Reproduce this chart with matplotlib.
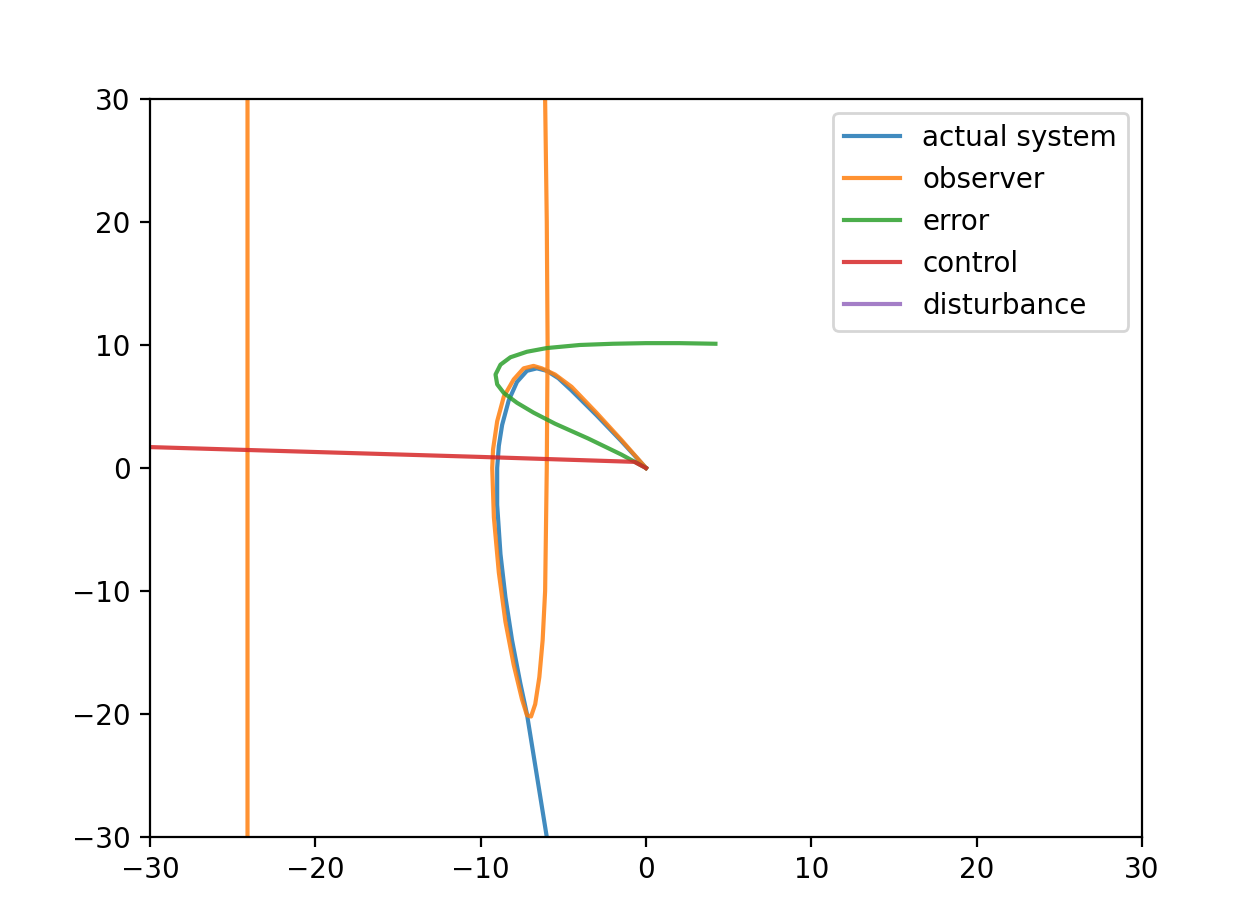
import matplotlib
matplotlib.use("Agg")
import matplotlib.pyplot as plt

# values
actual_x = [0.0, -1.5, -3.0, -4.5, -5.3, -6.0, -6.6, -7.2, -7.8, -8.3, -8.7, -8.9, -9.0, -9.0, -8.8, -8.5, -8.1, -7.6, -7.2, -6.6, -6.0]
actual_y = [0.0, 2.2, 4.3, 6.3, 7.3, 7.9, 8.1, 7.9, 7.0, 5.5, 3.5, 1.8, 0.0, -3.0, -7.0, -10.5, -14.0, -17.5, -20.0, -25.0, -30.0]

obs_x = [0.0, -1.5, -3.0, -4.5, -5.5, -6.3, -6.8, -7.4, -8.0, -8.6, -9.0, -9.25, -9.3, -9.2, -8.9, -8.5, -8.0, -7.5,
         -7.2, -6.95, -6.7, -6.45, -6.25, -6.1, -6.0, -5.95, -6.0, -6.1, -6.2, -24.2, -24.1, -24.1]
obs_y = [0.0, 2.3, 4.5, 6.6, 7.6, 8.1, 8.3, 8.1, 7.2, 5.8, 3.8, 1.5, 0.0, -4.0, -8.5, -12.5, -16.0, -18.8,
         -20.1, -20.2, -19.2, -17.0, -14.0, -10.0, 0.0, 10.0, 20.0, 30.0, 60.0, 60.0, 30.0, -60.0]

err_x = [4.2, 2.0, 0.0, -2.0, -4.0, -6.0, -7.2, -8.2, -8.8, -9.1, -9.0, -8.6, -7.8, -6.8, -5.5, -3.5, -1.5, 0.0]
err_y = [10.1, 10.15, 10.15, 10.1, 10.0, 9.75, 9.45, 9.0, 8.4, 7.6, 6.8, 6.1, 5.3, 4.5, 3.6, 2.4, 1.1, 0.0]

ctrl_x = [0.0, -0.7, -10.0, -20.0, -30.0, -40.0]
ctrl_y = [0.0, 0.5, 0.9, 1.3, 1.7, 2.1]

dist_x = [0.0]
dist_y = [0.0]

fig, ax = plt.subplots(figsize=(6.29, 4.59), dpi=200)
fig.subplots_adjust(left=0.1192, right=0.9078, top=0.8922, bottom=0.0882)
ax.plot(actual_x, actual_y, alpha=0.85, label="actual system")
ax.plot(obs_x, obs_y, alpha=0.85, label="observer")
ax.plot(err_x, err_y, alpha=0.85, label="error")
ax.plot(ctrl_x, ctrl_y, alpha=0.85, label="control")
ax.plot(dist_x, dist_y, alpha=0.85, label="disturbance")
ax.set_xlim(-30, 30)
ax.set_ylim(-30, 30)
ax.legend(loc="upper right")
fig.savefig("out.png")
